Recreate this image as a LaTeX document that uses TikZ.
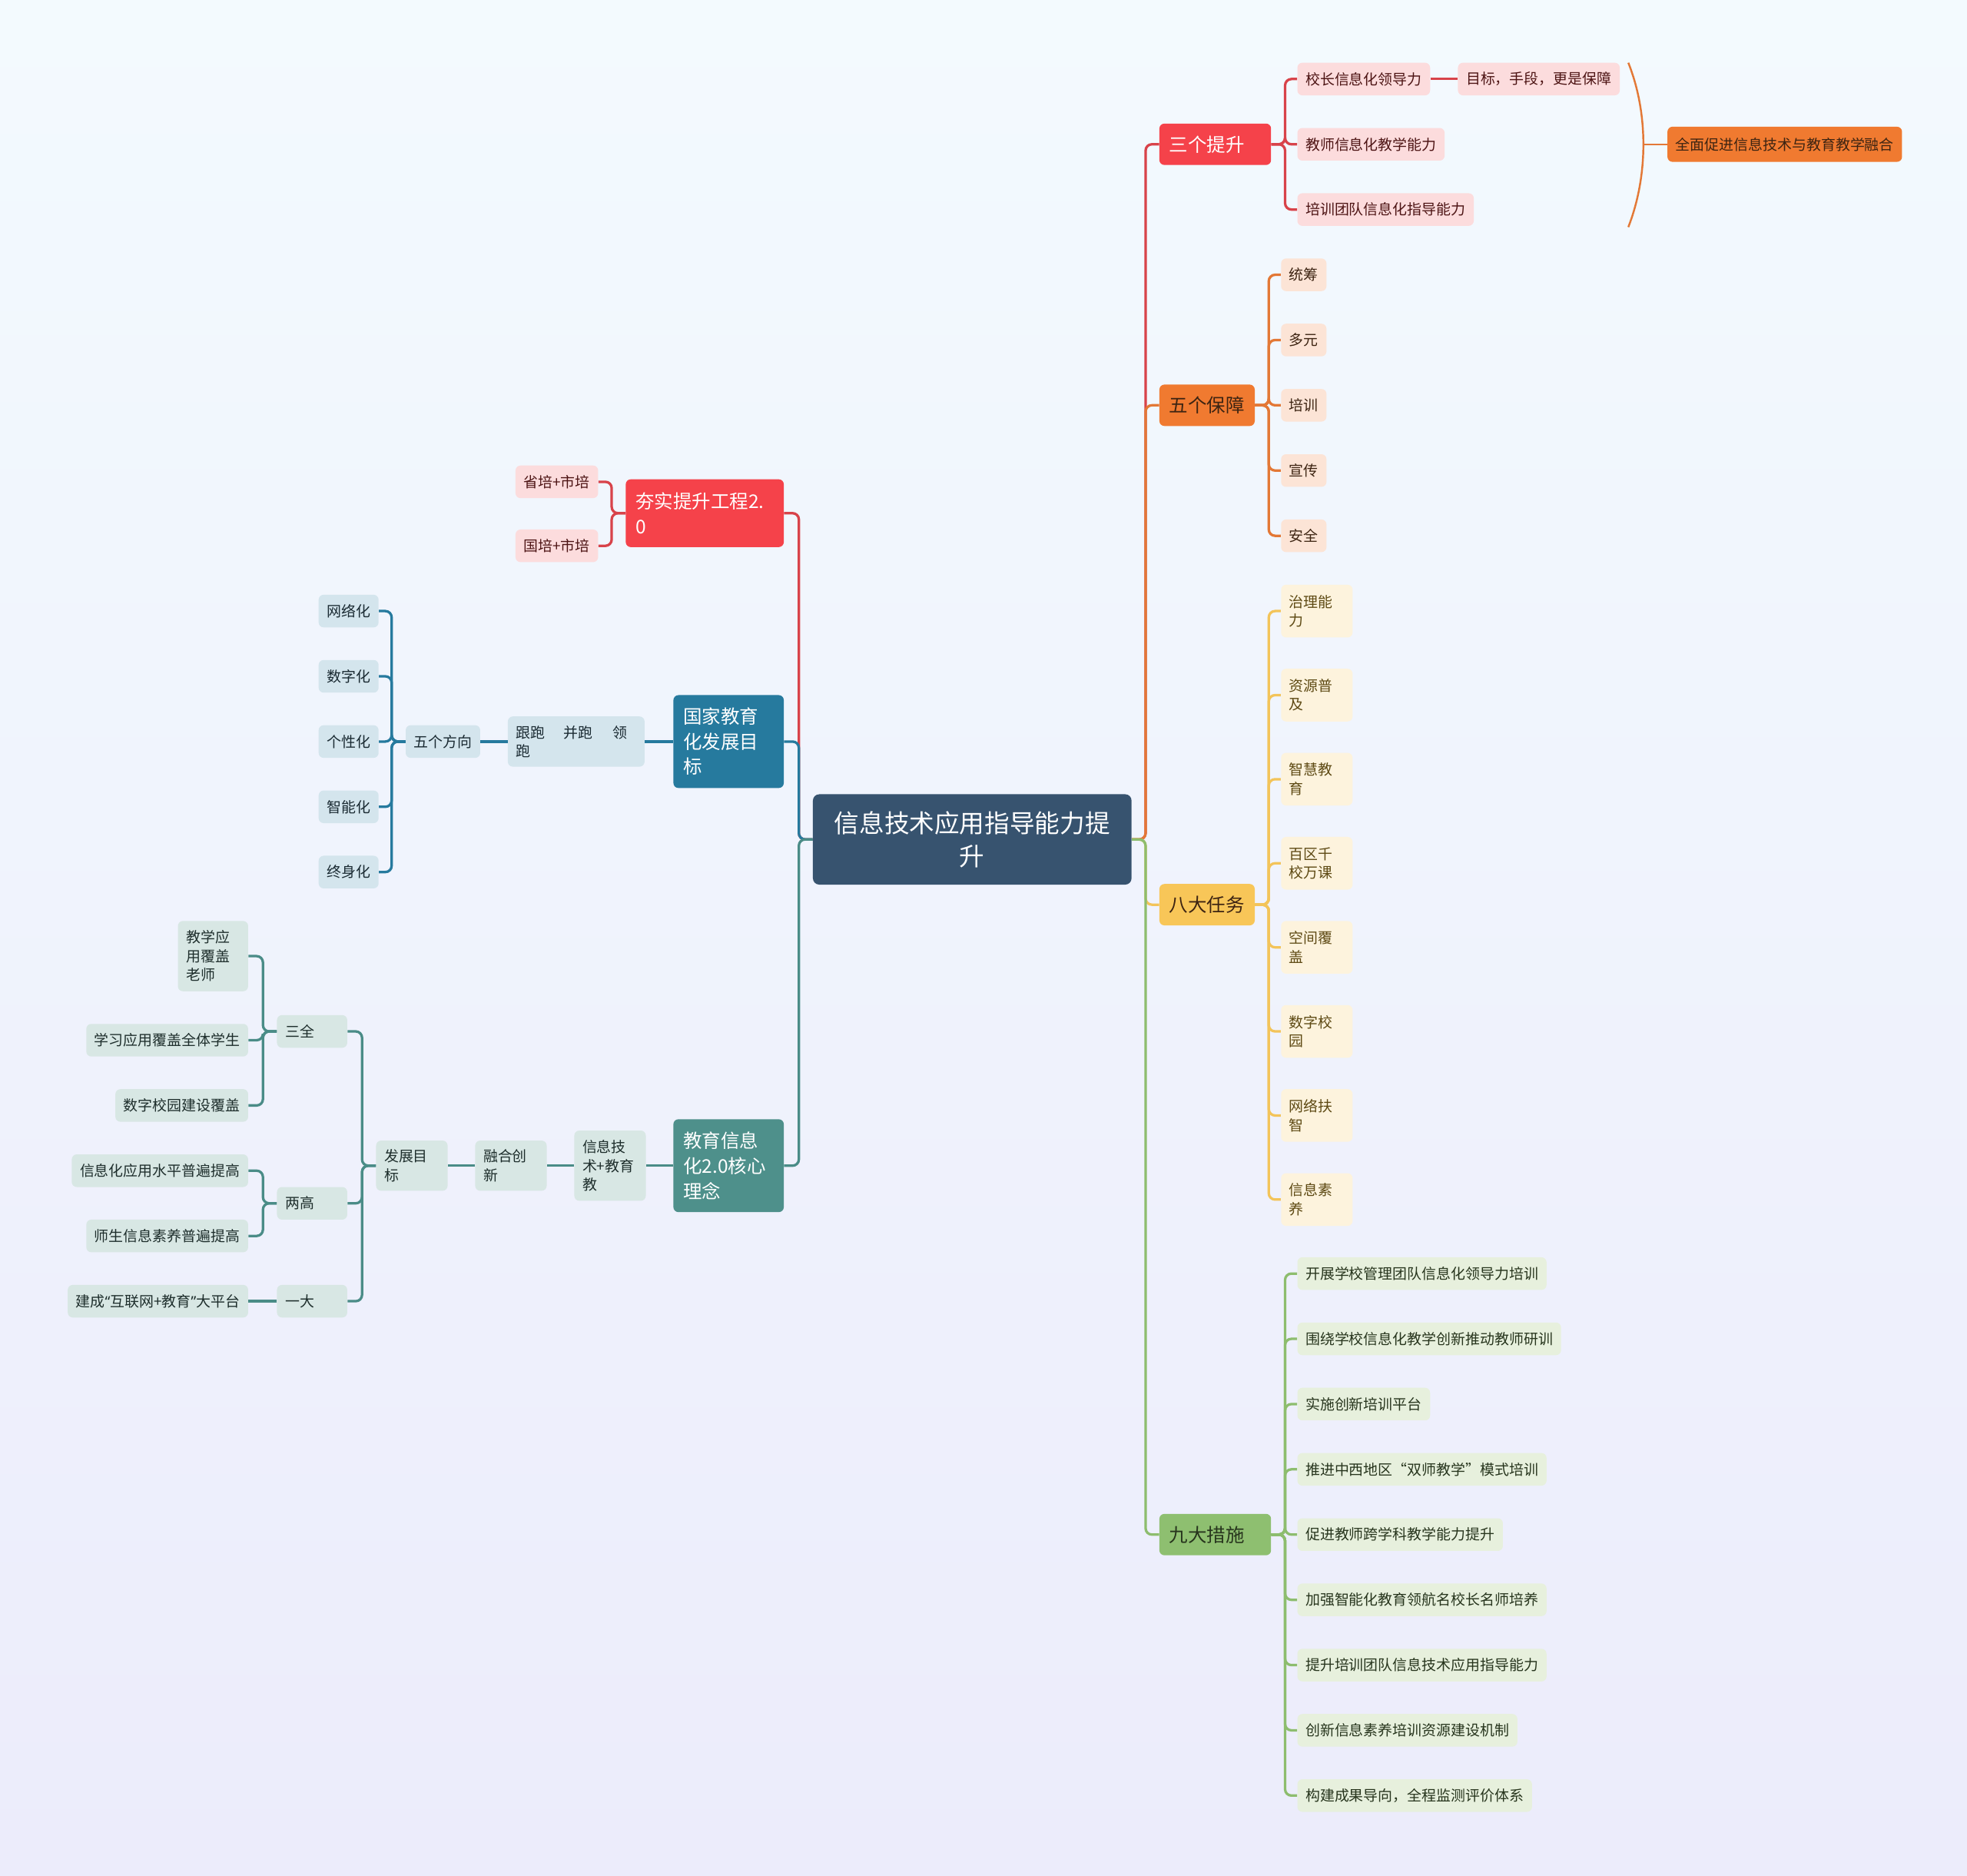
\documentclass[tikz,border=0pt]{standalone}
\usepackage{fontspec}
\newfontfamily\cjk{Noto Sans CJK SC}
\newfontfamily\latin{Noto Sans}
\usetikzlibrary{positioning}

\definecolor{bgtop}{HTML}{F3FAFE}
\definecolor{bgbot}{HTML}{ECECFB}
\definecolor{rootc}{HTML}{37536F}
\definecolor{redc}{HTML}{F5424A}
\definecolor{redln}{HTML}{D8434A}
\definecolor{redlt}{HTML}{FCDCDD}
\definecolor{redtx}{HTML}{4D1414}
\definecolor{orgc}{HTML}{F07A30}
\definecolor{orgln}{HTML}{E37836}
\definecolor{orglt}{HTML}{FCE4D6}
\definecolor{orgtx}{HTML}{3D2412}
\definecolor{yelc}{HTML}{F8C658}
\definecolor{yelln}{HTML}{F3C45A}
\definecolor{yellt}{HTML}{FDF3DD}
\definecolor{yeltx}{HTML}{5E4A14}
\definecolor{grnc}{HTML}{8EBF70}
\definecolor{grnln}{HTML}{8DBD6E}
\definecolor{grnlt}{HTML}{E7F0DD}
\definecolor{grntx}{HTML}{27351D}
\definecolor{bluc}{HTML}{267A9E}
\definecolor{blult}{HTML}{D4E5ED}
\definecolor{blutx}{HTML}{1A2A32}
\definecolor{tealc}{HTML}{4E908B}
\definecolor{tealln}{HTML}{4A8C87}
\definecolor{teallt}{HTML}{D8E7E4}
\definecolor{tealtx}{HTML}{1E2E2C}

\begin{document}
\begin{tikzpicture}[x=1pt, y=-1pt,
  every node/.style={font=\cjk\fontsize{11.6}{15}\selectfont},
  rootbox/.style={rounded corners=5pt, fill=rootc, text=white, align=center, inner sep=0pt,
    font=\cjk\fontsize{20}{26}\selectfont, minimum width=254pt, minimum height=72pt},
  topic/.style={rounded corners=4pt, align=left, inner xsep=8pt, inner ysep=0pt,
    font=\cjk\fontsize{15}{20}\selectfont, minimum height=33pt},
  leaf/.style={rounded corners=4pt, align=left, inner xsep=6.5pt, inner ysep=0pt, minimum height=26pt},
  rleaf/.style={leaf, anchor=west},
  lleaf/.style={leaf, anchor=east},
  link/.style={line width=2pt, rounded corners=5pt}]
\fill[top color=bgtop, bottom color=bgbot] (0,0) rectangle (1568,1495);

\node[rootbox] (root) at (775,669) {信息技术应用指导能力提\\升};

% right side
\node[topic, anchor=west, fill=redc, text=white, text width=73pt] (tisheng) at (924,115) {三个提升};
\node[topic, anchor=west, fill=orgc, text=orgtx] (baozhang) at (924,323) {五个保障};
\node[topic, anchor=west, fill=yelc, text=orgtx] (renwu) at (924,721) {八大任务};
\node[topic, anchor=west, fill=grnc, text=grntx, text width=73pt] (cuoshi) at (924,1223) {九大措施};
\draw[link, redln] (root.east) -- ++(11,0) |- (tisheng.west);
\draw[link, orgln] (root.east) -- ++(11,0) |- (baozhang.west);
\draw[link, yelln] (root.east) -- ++(11,0) |- (renwu.west);
\draw[link, grnln] (root.east) -- ++(11,0) |- (cuoshi.west);

% left side
\node[topic, anchor=east, fill=redc, text=white, text width=110pt, minimum height=54pt] (hangshi) at (625,409) {夯实提升工程2.\\0};
\node[topic, anchor=east, fill=bluc, text=white, text width=72pt, minimum height=74pt] (mubiao) at (625,591) {国家教育\\化发展目\\标};
\node[topic, anchor=east, fill=tealc, text=white, text width=72pt, minimum height=74pt] (linian) at (625,929) {教育信息\\化2.0核心\\理念};
\draw[link, redln] (root.west) -- ++(-11,0) |- (hangshi.east);
\draw[link, bluc] (root.west) -- ++(-11,0) |- (mubiao.east);
\draw[link, tealln] (root.west) -- ++(-11,0) |- (linian.east);

% 三个提升
\node[rleaf, fill=redlt, text=redtx] (lingdao) at (1034,63) {校长信息化领导力};
\node[rleaf, fill=redlt, text=redtx] (shouduan) at (1162,63) {目标，手段，更是保障};
\node[rleaf, fill=redlt, text=redtx] (jiaoxue) at (1034,115) {教师信息化教学能力};
\node[rleaf, fill=redlt, text=redtx] (zhidao) at (1034,167) {培训团队信息化指导能力};
\foreach \n in {lingdao, jiaoxue, zhidao}
  \draw[link, redln] (tisheng.east) -- ++(11,0) |- (\n.west);
\draw[link, redln] (lingdao.east) -- (shouduan.west);
\draw[orgln, line width=1.5pt] (1298,50) .. controls (1314,90) and (1314,140) .. (1298,181);
\coordinate (kuo) at (1310,115);
\node[rleaf, fill=orgc, text=orgtx, minimum height=28pt] (ronghe) at (1329,115) {全面促进信息技术与教育教学融合};
\draw[orgln, line width=1.5pt] (kuo) -- (ronghe.west);

% 五个保障
\foreach \lbl [count=\i from 0] in {统筹,多元,培训,宣传,安全} {
  \node[rleaf, fill=orglt, text=orgtx] (bz\i) at (1021,{219+52*\i}) {\lbl};
  \draw[link, orgln] (baozhang.east) -- ++(11,0) |- (bz\i.west);
}

% 八大任务
\foreach \lbl [count=\i from 0] in {{治理能\\力},{资源普\\及},{智慧教\\育},{百区千\\校万课},
    {空间覆\\盖},{数字校\\园},{网络扶\\智},{信息素\\养}} {
  \node[rleaf, fill=yellt, text=yeltx, text width=44pt, minimum height=42pt] (rw\i) at (1021,{487+67*\i}) {\lbl};
  \draw[link, yelln] (renwu.east) -- ++(11,0) |- (rw\i.west);
}

% 九大措施
\foreach \lbl [count=\i from 0] in {开展学校管理团队信息化领导力培训,围绕学校信息化教学创新推动教师研训,
    实施创新培训平台,推进中西地区“双师教学”模式培训,促进教师跨学科教学能力提升,
    加强智能化教育领航名校长名师培养,提升培训团队信息技术应用指导能力,
    创新信息素养培训资源建设机制,构建成果导向，全程监测评价体系} {
  \node[rleaf, fill=grnlt, text=grntx] (cs\i) at (1034,{1015+52*\i}) {\lbl};
  \draw[link, grnln] (cuoshi.east) -- ++(11,0) |- (cs\i.west);
}

% 夯实提升工程2.0
\node[lleaf, fill=redlt, text=redtx] (shengpei) at (477,384) {省培+市培};
\node[lleaf, fill=redlt, text=redtx] (guopei) at (477,435) {国培+市培};
\foreach \n in {shengpei, guopei}
  \draw[link, redln] (hangshi.west) -- ++(-11,0) |- (\n.east);

% 国家教育化发展目标
\node[lleaf, fill=blult, text=blutx, text width=96pt, minimum height=40pt] (paobu) at (514,591) {跟跑\hspace{15pt}并跑\hspace{16pt}领\\跑};
\node[lleaf, fill=blult, text=blutx] (fangxiang) at (383,591) {五个方向};
\draw[link, bluc] (mubiao.west) -- (paobu.east);
\draw[link, bluc] (paobu.west) -- (fangxiang.east);
\foreach \lbl [count=\i] in {网络化,数字化,个性化,智能化,终身化} {
  \node[lleaf, fill=blult, text=blutx] (hua\i) at (302,{435+52*\i}) {\lbl};
  \draw[link, bluc] (fangxiang.west) -- ++(-11,0) |- (hua\i.east);
}

% 教育信息化2.0核心理念
\node[lleaf, fill=teallt, text=tealtx, text width=44pt, minimum height=56pt] (jishu) at (515,929) {信息技\\术+教育\\教};
\node[lleaf, fill=teallt, text=tealtx, text width=44pt, minimum height=40pt] (chuangxin) at (436,929) {融合创\\新};
\node[lleaf, fill=teallt, text=tealtx, text width=44pt, minimum height=40pt] (fazhan) at (357,929) {发展目\\标};
\node[lleaf, fill=teallt, text=tealtx, text width=43pt] (sanquan) at (277,822) {三全};
\node[lleaf, fill=teallt, text=tealtx, text width=43pt] (lianggao) at (277,959) {两高};
\node[lleaf, fill=teallt, text=tealtx, text width=43pt] (yida) at (277,1037) {一大};
\node[lleaf, fill=teallt, text=tealtx, text width=43pt, minimum height=56pt] (laoshi) at (198,762) {教学应\\用覆盖\\老师};
\node[lleaf, fill=teallt, text=tealtx] (xuesheng) at (198,829) {学习应用覆盖全体学生};
\node[lleaf, fill=teallt, text=tealtx] (xiaoyuan) at (198,881) {数字校园建设覆盖};
\node[lleaf, fill=teallt, text=tealtx] (shuiping) at (198,933) {信息化应用水平普遍提高};
\node[lleaf, fill=teallt, text=tealtx] (suyang) at (198,985) {师生信息素养普遍提高};
\node[lleaf, fill=teallt, text=tealtx] (pingtai) at (198,1037) {建成{\latin“}互联网+教育{\latin”}大平台};
\draw[link, tealln] (linian.west) -- (jishu.east);
\draw[link, tealln] (jishu.west) -- (chuangxin.east);
\draw[link, tealln] (chuangxin.west) -- (fazhan.east);
\foreach \n in {sanquan, lianggao, yida}
  \draw[link, tealln] (fazhan.west) -- ++(-11,0) |- (\n.east);
\foreach \n in {laoshi, xuesheng, xiaoyuan}
  \draw[link, tealln] (sanquan.west) -- ++(-11,0) |- (\n.east);
\foreach \n in {shuiping, suyang}
  \draw[link, tealln] (lianggao.west) -- ++(-11,0) |- (\n.east);
\draw[link, tealln] (yida.west) -- (pingtai.east);
\end{tikzpicture}
\end{document}
